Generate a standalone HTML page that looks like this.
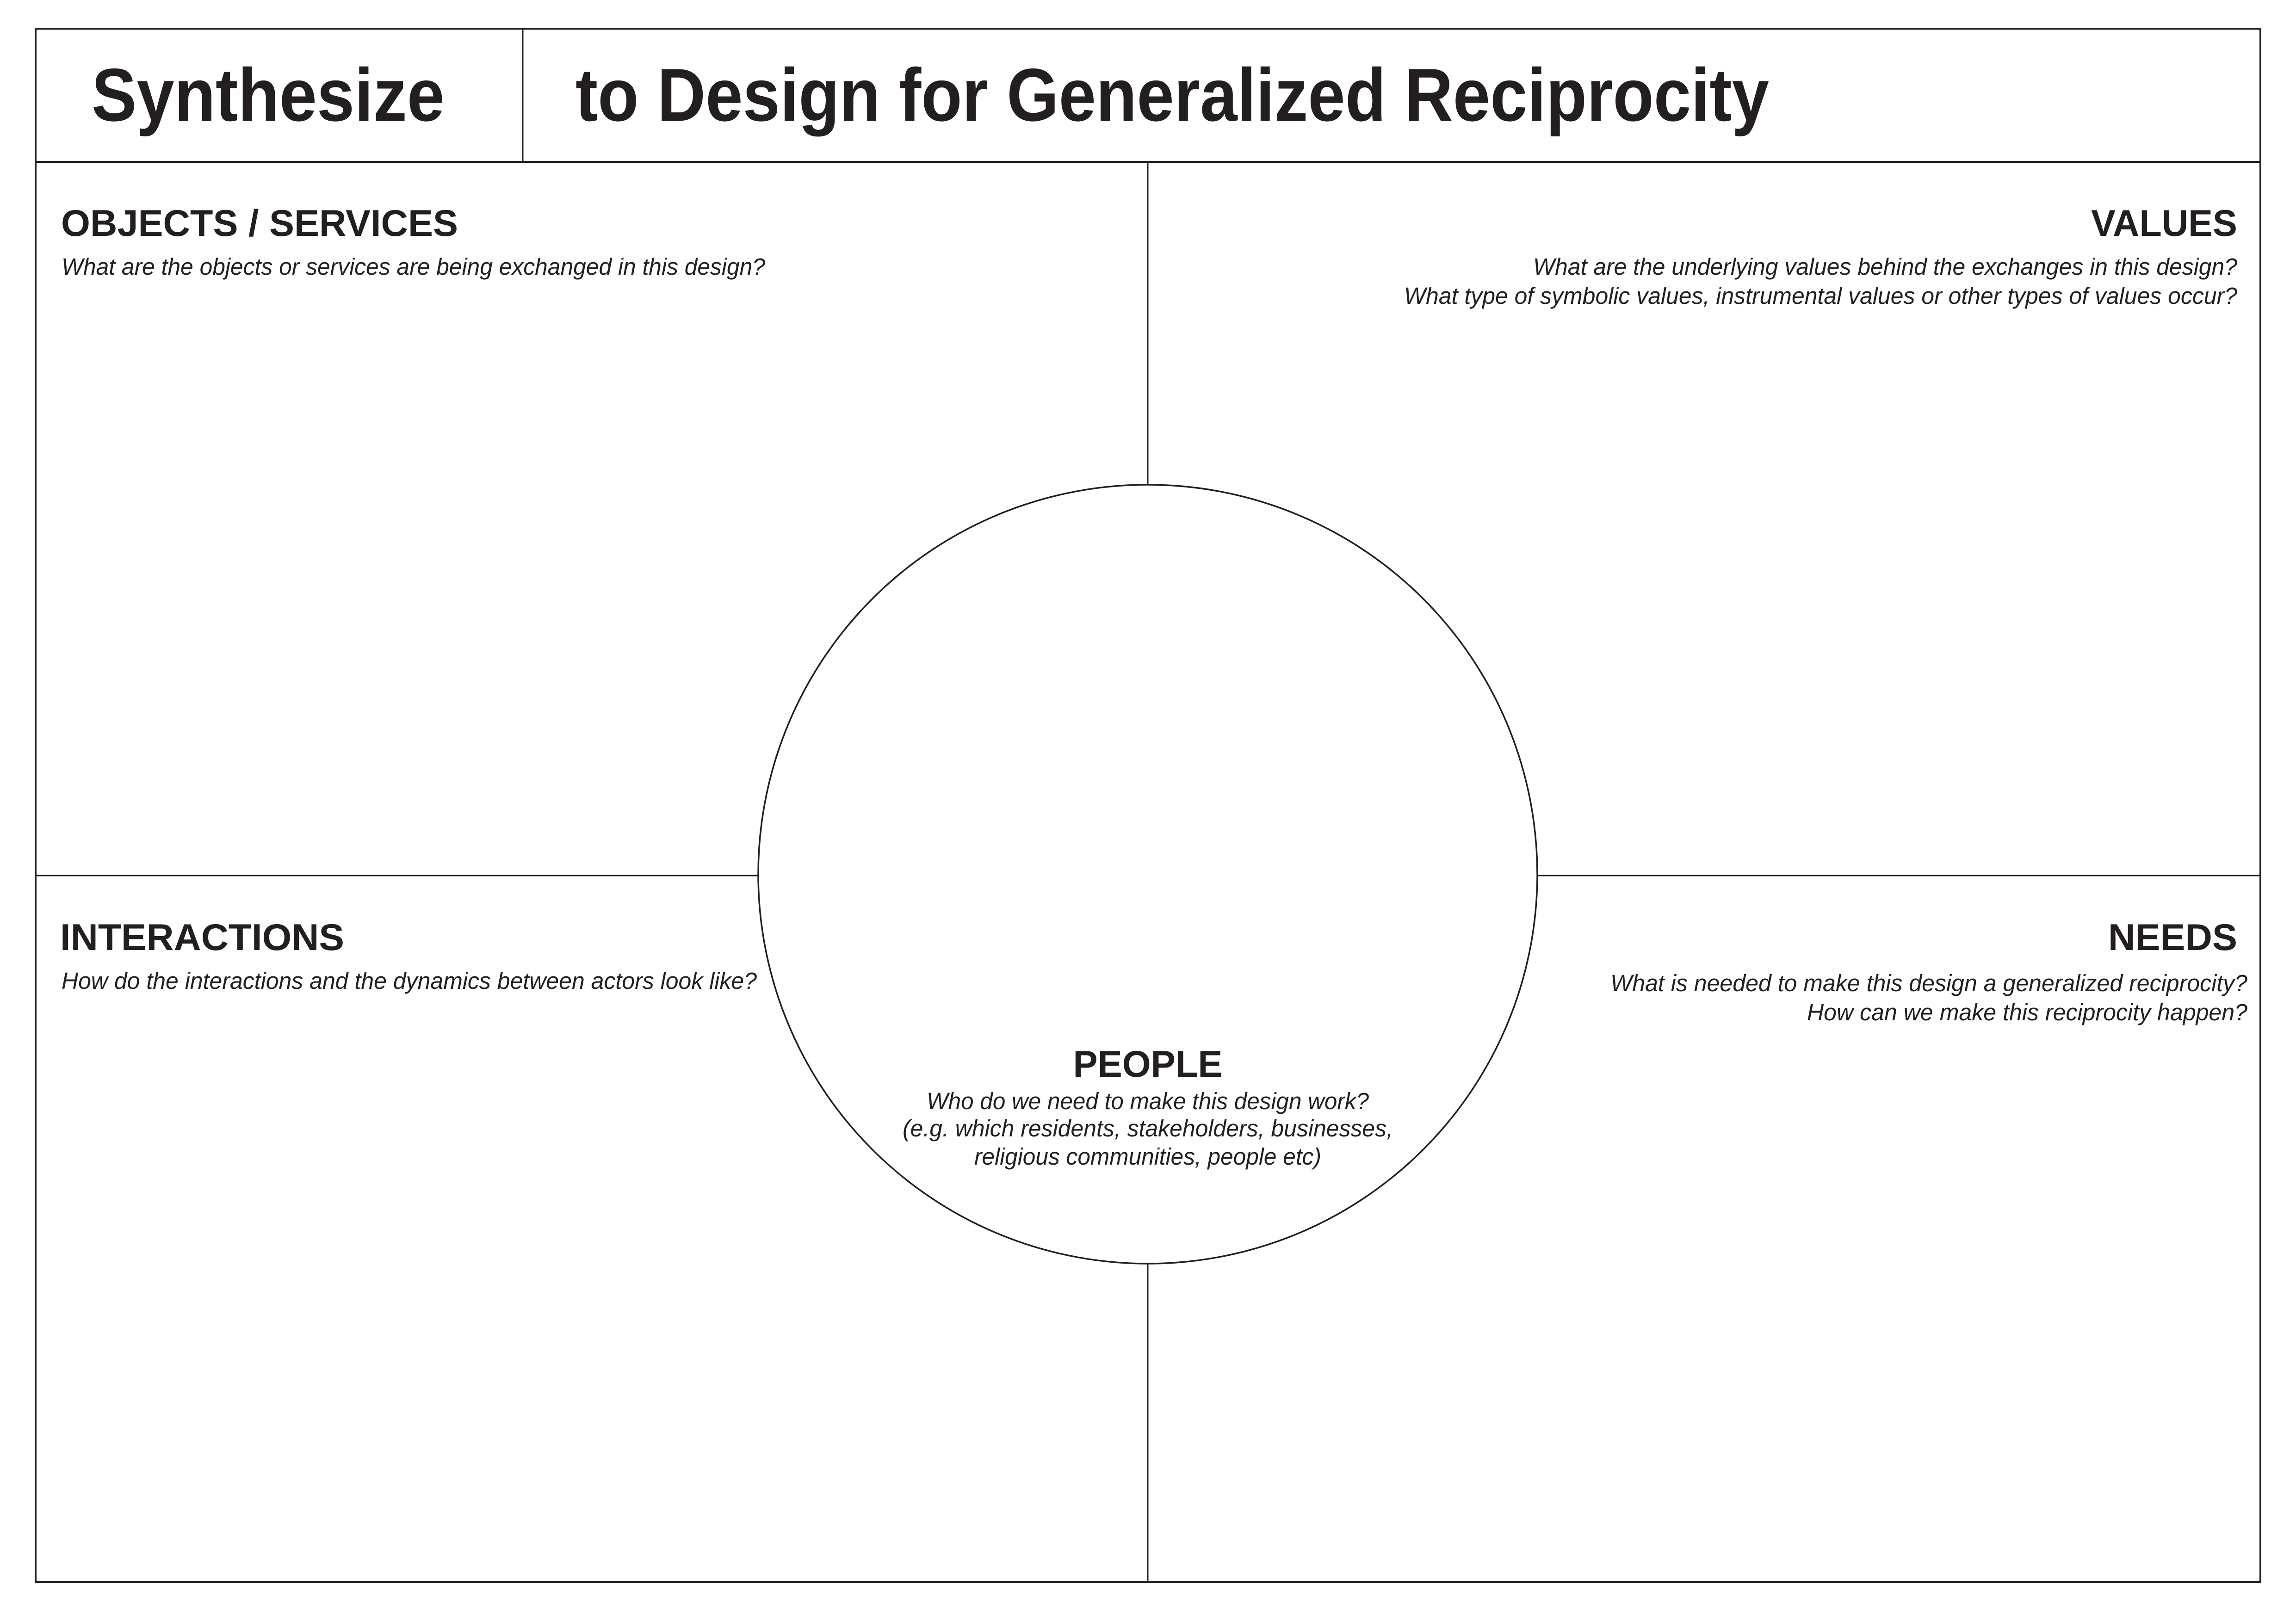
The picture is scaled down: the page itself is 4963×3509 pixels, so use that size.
<!DOCTYPE html>
<html><head><meta charset="utf-8"><style>
html,body{margin:0;padding:0;background:#fff;}
svg{display:block;}
text{font-family:"Liberation Sans",Arial,sans-serif;fill:#231f20;}
.h{font-weight:bold;font-size:81px;}
.q{font-style:italic;font-size:51px;}
.t{font-weight:bold;font-size:162px;}
</style></head><body>
<svg width="4963" height="3509" viewBox="0 0 4963 3509" xmlns="http://www.w3.org/2000/svg">
<rect x="0" y="0" width="4963" height="3509" fill="#fff"/>
<rect x="77" y="62" width="4809" height="3358" fill="none" stroke="#231f20" stroke-width="4"/>
<line x1="77" y1="350" x2="4886" y2="350" stroke="#231f20" stroke-width="4"/>
<line x1="1130" y1="62" x2="1130" y2="350" stroke="#231f20" stroke-width="3"/>
<line x1="2481" y1="350" x2="2481" y2="3420" stroke="#231f20" stroke-width="3"/>
<line x1="77" y1="1893" x2="4886" y2="1893" stroke="#231f20" stroke-width="3"/>
<circle cx="2481" cy="1890" r="842" fill="#fff" stroke="#231f20" stroke-width="3.5"/>

<text class="t" x="198" y="261" textLength="763" lengthAdjust="spacingAndGlyphs">Synthesize</text>
<text class="t" x="1244" y="261" textLength="2580" lengthAdjust="spacingAndGlyphs">to Design for Generalized Reciprocity</text>

<text class="h" x="132" y="510" textLength="858" lengthAdjust="spacingAndGlyphs">OBJECTS / SERVICES</text>
<text class="q" x="133" y="594" textLength="1521" lengthAdjust="spacingAndGlyphs">What are the objects or services are being exchanged in this design?</text>

<text class="h" x="4836" y="510" text-anchor="end" textLength="316" lengthAdjust="spacingAndGlyphs">VALUES</text>
<text class="q" x="4836" y="594" text-anchor="end" textLength="1522" lengthAdjust="spacingAndGlyphs">What are the underlying values behind the exchanges in this design?</text>
<text class="q" x="4836" y="657" text-anchor="end" textLength="1801" lengthAdjust="spacingAndGlyphs">What type of symbolic values, instrumental values or other types of values occur?</text>

<text class="h" x="130" y="2054" textLength="614" lengthAdjust="spacingAndGlyphs">INTERACTIONS</text>
<text class="q" x="133" y="2138" textLength="1503" lengthAdjust="spacingAndGlyphs">How do the interactions and the dynamics between actors look like?</text>

<text class="h" x="4836" y="2054" text-anchor="end" textLength="279" lengthAdjust="spacingAndGlyphs">NEEDS</text>
<text class="q" x="4858" y="2143" text-anchor="end" textLength="1377" lengthAdjust="spacingAndGlyphs">What is needed to make this design a generalized reciprocity?</text>
<text class="q" x="4858" y="2206" text-anchor="end" textLength="952" lengthAdjust="spacingAndGlyphs">How can we make this reciprocity happen?</text>

<text class="h" x="2481" y="2328" text-anchor="middle" textLength="323" lengthAdjust="spacingAndGlyphs">PEOPLE</text>
<text class="q" x="2481" y="2398" text-anchor="middle" textLength="956" lengthAdjust="spacingAndGlyphs">Who do we need to make this design work?</text>
<text class="q" x="2481" y="2457" text-anchor="middle" textLength="1060" lengthAdjust="spacingAndGlyphs">(e.g. which residents, stakeholders, businesses,</text>
<text class="q" x="2481" y="2518" text-anchor="middle" textLength="750" lengthAdjust="spacingAndGlyphs">religious communities, people etc)</text>
</svg>
</body></html>
